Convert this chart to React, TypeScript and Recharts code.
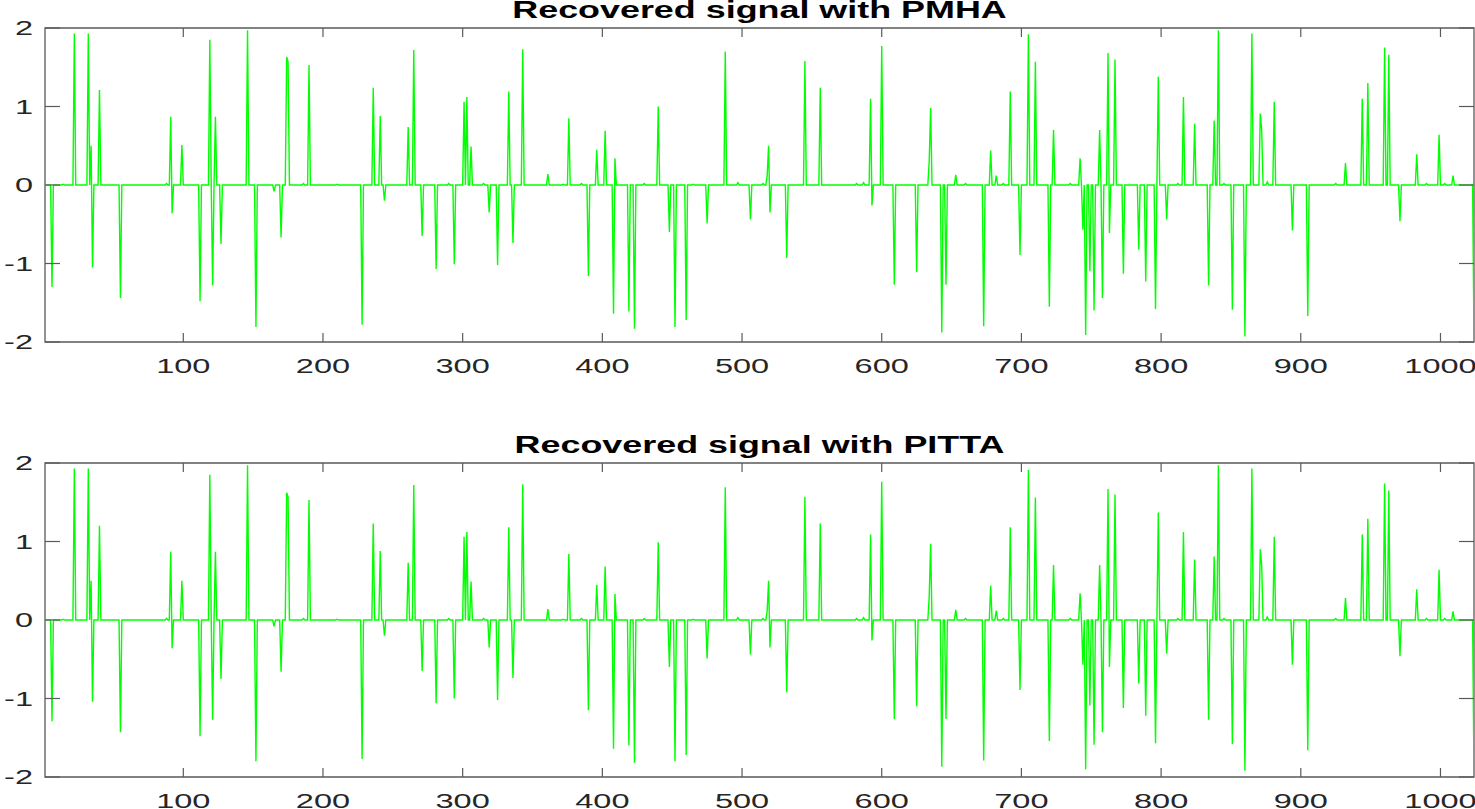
import { LineChart, Line, XAxis, YAxis, ReferenceArea } from 'recharts';

const N = 1024;
const X_TICKS = [100, 200, 300, 400, 500, 600, 700, 800, 900, 1000];
const Y_TICKS = [-2, -1, 0, 1, 2];

// sample index of every non-zero entry (the rest of the 1024 samples are 0)
const SPIKE_IDX = [
  6, 14, 22, 32, 34, 35, 40, 55, 88, 91, 92, 99, 112, 119, 121, 123, 127, 146, 152, 165,
  170, 174, 175, 186, 190, 210, 228, 236, 241, 244, 261, 265, 271, 281, 290, 294, 301, 303,
  306, 315, 319, 325, 333, 336, 343, 361, 372, 376, 385, 390, 396, 402, 408, 409, 419, 423,
  430, 440, 448, 452, 460, 465, 475, 488, 497, 506, 515, 518, 519, 520, 532, 545, 556, 582,
  587, 592, 593, 600, 609, 625, 634, 635, 643, 646, 653, 660, 673, 678, 682, 687, 692, 699,
  705, 710, 720, 723, 735, 742, 744, 746, 749, 752, 756, 758, 762, 763, 767, 773, 784, 789,
  796, 798, 804, 812, 816, 824, 834, 838, 841, 845, 851, 860, 865, 871, 872, 876, 881, 894,
  905, 925, 932, 944, 948, 960, 963, 971, 983, 990, 999, 1003, 1009, 1024,
];

const PMHA_VALS = [
  -1.3, 0.01, 1.93, 1.93, 0.5, -1.05, 1.21, -1.44, 0.02, 0.87, -0.36, 0.51, -1.48, 1.85, -1.28, 0.87, -0.75, 1.97, -1.81, -0.08,
  -0.67, 1.63, 1.57, 0.02, 1.53, 0.01, -1.78, 1.24, 0.88, -0.2, 0.74, 1.72, -0.65, -1.07, 0.02, -1.01, 1.06, 1.12,
  0.49, 0.02, -0.35, -1.02, 1.19, -0.74, 1.73, 0.14, 0.01, 0.85, 0.02, -1.16, 0.45, 0.69, -1.64, 0.34, -1.61, -1.83,
  0.02, 1.0, -0.6, -1.81, -1.72, 0.01, -0.49, 1.7, 0.03, -0.44, 0.02, 0.12, 0.5, -0.35, -0.93, 1.58, 1.24, 0.02,
  0.03, 1.1, -0.26, 1.77, -1.27, -1.11, 0.3, 0.98, -1.88, -1.27, 0.13, 0.02, -1.8, 0.44, 0.12, 0.02, 1.19, -0.89,
  1.92, 1.57, -1.55, 0.7, 0.02, 0.34, -0.57, -1.91, -1.1, -1.6, 0.7, -1.44, 1.68, -0.61, 1.6, -1.13, -0.82, -1.23,
  -1.58, 1.38, -0.44, 0.02, 1.12, 0.78, -1.28, 0.82, 1.97, 0.02, -1.59, -1.93, 1.93, 0.91, 0.7, 0.04, 1.06, -0.58,
  -1.67, 0.02, 0.28, 1.1, 1.3, 1.75, 1.66, -0.46, 0.39, 0.02, 0.64, 0.02, 0.12, -1.97,
];

const PITTA_VALS = [
  -1.29, 0.01, 1.93, 1.93, 0.5, -1.04, 1.2, -1.43, 0.02, 0.87, -0.36, 0.5, -1.48, 1.85, -1.27, 0.87, -0.75, 1.97, -1.8, -0.08,
  -0.66, 1.62, 1.57, 0.02, 1.53, 0.01, -1.77, 1.23, 0.88, -0.2, 0.73, 1.72, -0.65, -1.06, 0.02, -1.0, 1.06, 1.12,
  0.49, 0.02, -0.35, -1.02, 1.18, -0.74, 1.73, 0.14, 0.01, 0.84, 0.02, -1.15, 0.45, 0.68, -1.64, 0.33, -1.6, -1.82,
  0.02, 0.99, -0.6, -1.8, -1.72, 0.01, -0.49, 1.69, 0.03, -0.44, 0.02, 0.12, 0.5, -0.35, -0.92, 1.57, 1.23, 0.02,
  0.03, 1.09, -0.26, 1.76, -1.26, -1.1, 0.3, 0.97, -1.87, -1.26, 0.13, 0.02, -1.79, 0.44, 0.12, 0.02, 1.18, -0.89,
  1.91, 1.56, -1.54, 0.7, 0.02, 0.34, -0.57, -1.9, -1.09, -1.59, 0.7, -1.43, 1.67, -0.6, 1.6, -1.12, -0.81, -1.22,
  -1.57, 1.37, -0.43, 0.02, 1.12, 0.77, -1.27, 0.81, 1.97, 0.02, -1.58, -1.92, 1.93, 0.9, 0.7, 0.04, 1.06, -0.57,
  -1.66, 0.02, 0.28, 1.09, 1.29, 1.74, 1.65, -0.46, 0.39, 0.02, 0.64, 0.02, 0.11, -1.99,
];

const W = 1475;
const PLOT_TOP = 28;
const PLOT_H = 314;
const PLOT_BOTTOM = PLOT_TOP + PLOT_H;
const PLOT_LEFT = 45;
const PLOT_RIGHT = 1474;
const CHART_H = PLOT_BOTTOM + 50;
const AXIS = '#5a5a5a';
const TEXT = '#262626';
const FONT = '"Liberation Sans", Arial, Helvetica, sans-serif';

function buildSeries(idx: number[], vals: number[]) {
  const m = new Map<number, number>();
  idx.forEach((k, i) => m.set(k, vals[i]));
  return Array.from({ length: N }, (_, i) => ({ x: i + 1, v: m.get(i + 1) ?? 0 }));
}

const XTick = ({ x, payload }: any) => (
  <g>
    <line x1={x} x2={x} y1={PLOT_BOTTOM} y2={PLOT_BOTTOM - 9} stroke={AXIS} strokeWidth={1.2} />
    <line x1={x} x2={x} y1={PLOT_TOP} y2={PLOT_TOP + 9} stroke={AXIS} strokeWidth={1.2} />
    <text
      transform={`translate(${x},${PLOT_BOTTOM + 31}) scale(1.55,1)`}
      textAnchor="middle"
      fontSize={21}
      fontFamily={FONT}
      fill={TEXT}
    >
      {payload.value}
    </text>
  </g>
);

const YTick = ({ y, payload }: any) => (
  <g>
    <line x1={PLOT_LEFT} x2={PLOT_LEFT + 15} y1={y} y2={y} stroke={AXIS} strokeWidth={1.2} />
    <line x1={PLOT_RIGHT} x2={PLOT_RIGHT - 15} y1={y} y2={y} stroke={AXIS} strokeWidth={1.2} />
    <text
      transform={`translate(33,${y + 7}) scale(1.55,1)`}
      textAnchor="end"
      fontSize={21}
      fontFamily={FONT}
      fill={TEXT}
    >
      {payload.value}
    </text>
  </g>
);

function Panel({ title, data, top }: { title: string; data: { x: number; v: number }[]; top: number }) {
  return (
    <div style={{ position: 'absolute', left: 0, top, width: W, height: CHART_H }}>
      <div
        style={{
          position: 'absolute',
          left: PLOT_LEFT,
          width: PLOT_RIGHT - PLOT_LEFT,
          top: -1.5,
          textAlign: 'center',
          fontFamily: FONT,
          fontWeight: 'bold',
          fontSize: 23,
          lineHeight: '23px',
          color: '#000',
          transform: 'scaleX(1.56)',
          whiteSpace: 'nowrap',
          zIndex: 2,
        }}
      >
        {title}
      </div>
      <LineChart width={W} height={CHART_H} data={data} margin={{ top: PLOT_TOP, right: W - PLOT_RIGHT, bottom: 0, left: 0 }}>
        <XAxis
          dataKey="x"
          type="number"
          domain={[1, N]}
          ticks={X_TICKS}
          interval={0}
          allowDataOverflow
          axisLine={false}
          tickLine={false}
          tickSize={0}
          height={50}
          tick={<XTick />}
        />
        <YAxis
          type="number"
          domain={[-2, 2]}
          ticks={Y_TICKS}
          interval={0}
          allowDataOverflow
          axisLine={false}
          tickLine={false}
          width={PLOT_LEFT}
          tick={<YTick />}
        />
        <Line type="linear" dataKey="v" stroke="#00ff00" strokeWidth={1.4} dot={false} activeDot={false} isAnimationActive={false} />
        <ReferenceArea x1={1} x2={N} y1={-2} y2={2} fill="none" stroke={AXIS} strokeWidth={1.3} ifOverflow="visible" />
      </LineChart>
    </div>
  );
}

export default function App() {
  const pmha = buildSeries(SPIKE_IDX, PMHA_VALS);
  const pitta = buildSeries(SPIKE_IDX, PITTA_VALS);
  return (
    <div style={{ position: 'absolute', left: 0, top: 0, width: W, height: 809, overflow: 'hidden', background: '#fff' }}>
      <Panel title="Recovered signal with PMHA" data={pmha} top={0} />
      <Panel title="Recovered signal with PITTA" data={pitta} top={435} />
    </div>
  );
}
